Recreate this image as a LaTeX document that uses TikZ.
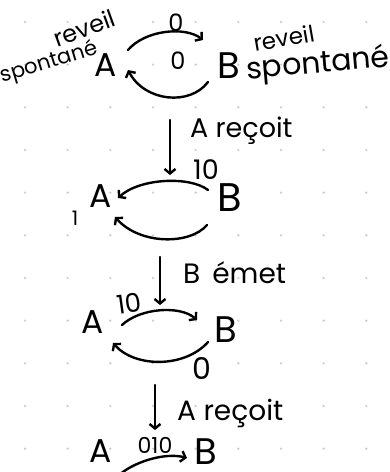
\documentclass[tikz,border=0pt]{standalone}
\usepackage{fontspec}
\setmainfont{Poppins}
\usetikzlibrary{arrows.meta,calc}
\definecolor{dotc}{RGB}{205,205,205}
\tikzset{
  hw/.style={line width=2.4pt,line cap=round,line join=round,black},
  arr/.style={hw,-{Straight Barb[length=4.5pt,width=11pt]}},
  stA/.style={inner sep=0pt,font=\fontsize{33}{33}\selectfont},
  stB/.style={inner sep=0pt,font=\fontsize{37}{37}\selectfont},
  lbl/.style={inner sep=0pt,font=\fontsize{24}{24}\selectfont},
  note/.style={inner sep=0pt,font=\fontsize{25}{25}\selectfont},
}
\begin{document}
\begin{tikzpicture}[x=1pt,y=-1pt]
\useasboundingbox (0,0) rectangle (390,472);
\foreach \i in {0,...,8} \foreach \j in {0,...,10}
  \fill[dotc] (25+42.67*\i,22+42.67*\j) circle (1.3);
% --- stage 1
\node[stA] (A1) at (106,65) {A};
\node[stB] (B1) at (229,66) {B};
\node[lbl] (z1) at (176,23) {0};
\node[lbl] (z2) at (178,61) {0};
\node[note,font=\fontsize{24}{24}\selectfont,rotate=20] (rv1) at (84,28) {reveil};
\node[note,font=\fontsize{21}{21}\selectfont,rotate=17] (sp1) at (49,63) {spontané};
\node[note,font=\fontsize{23}{23}\selectfont,rotate=10] (rv2) at (284,38) {reveil};
\node[note,font=\fontsize{30}{30}\selectfont,rotate=5] (sp2) at (318,65) {spontané};
\draw[arr] ($(A1)+(22,-15)$) .. controls +(17,-20) and +(-18,-14) .. ($(B1)+(-26,-26)$);
\draw[arr] ($(B1)+(-21,16)$) .. controls +(-18,24) and +(17,32) .. ($(A1)+(22,5)$);
% --- transition 1
\coordinate (d1s) at (170,120);
\coordinate (d1e) at (170,175);
\draw[arr] (d1s) -- (d1e);
\node[note,anchor=base west,font=\fontsize{27}{27}\selectfont] (t1) at (190,137) {A reçoit};
% --- stage 2
\node[stA] (A2) at (101,196) {A};
\node[stB,font=\fontsize{40}{40}\selectfont] (B2) at (230,198) {B};
\node[lbl,font=\fontsize{27}{27}\selectfont] (z3) at (206,170) {10};
\node[lbl,font=\fontsize{20}{20}\selectfont] (z4) at (75,218) {1};
\draw[arr] ($(B2)+(-22,-8)$) .. controls +(-18,-14) and +(22,-20) .. ($(A2)+(17,2)$);
\draw[arr] ($(B2)+(-23,27)$) .. controls +(-17,20) and +(25,28) .. ($(A2)+(14,21)$);
% --- transition 2
\coordinate (d2s) at (160,257);
\coordinate (d2e) at (160,305);
\draw[arr] (d2s) -- (d2e);
\node[note,anchor=base west,font=\fontsize{28}{28}\selectfont] (t2) at (183,283) {B\hspace{12pt}émet};
% --- stage 3
\node[stA] (A3) at (93,322) {A};
\node[stB] (B3) at (226,330) {B};
\node[lbl,font=\fontsize{26}{26}\selectfont,rotate=8] (z5) at (129,303) {10};
\node[lbl,font=\fontsize{30}{30}\selectfont] (z6) at (202,368) {0};
\draw[arr] ($(A3)+(29,3)$) .. controls +(18,-17) and +(-17,-15) .. ($(B3)+(-29,-10)$);
\draw[arr] ($(B3)+(-18,12)$) .. controls +(-23,26) and +(22,25) .. ($(A3)+(20,21)$);
% --- transition 3
\coordinate (d3s) at (155,385);
\coordinate (d3e) at (155,430);
\draw[arr] (d3s) -- (d3e);
\node[note,anchor=base west,font=\fontsize{28}{28}\selectfont] (t3) at (177,420) {A reçoit};
% --- stage 4
\node[stA] (A4) at (101,451) {A};
\node[stB] (B4) at (206,452) {B};
\node[lbl,font=\fontsize{22}{22}\selectfont] (z7) at (155,445) {010};
\draw[arr] ($(A4)+(17,25)$) .. controls +(15,-14) and +(-22,-6) .. ($(B4)+(-19,6)$);
\end{tikzpicture}
\end{document}
